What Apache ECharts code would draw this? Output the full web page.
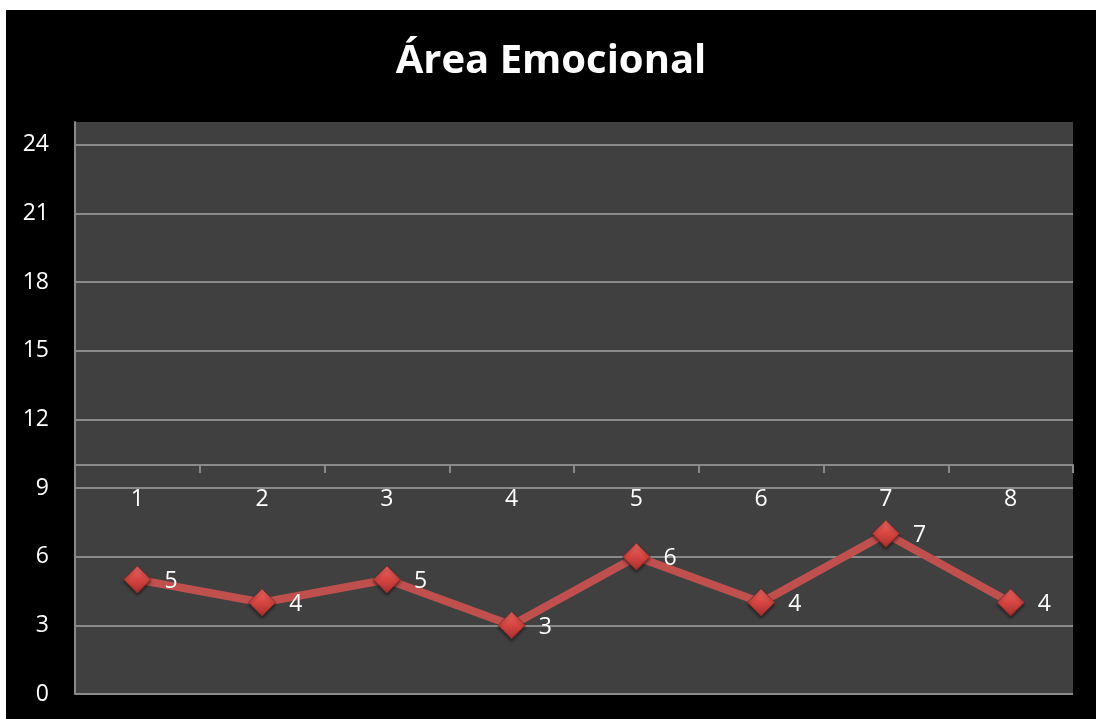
<!DOCTYPE html>
<html>
<head>
<meta charset="utf-8">
<script src="https://cdn.jsdelivr.net/npm/echarts@6/dist/echarts.min.js"></script>
<style>
html,body{margin:0;padding:0;background:#ffffff;width:1096px;height:719px;overflow:hidden;}
#chart{position:absolute;left:6px;top:10px;width:1090px;height:709px;background:#000000;}
</style>
</head>
<body>
<div id="chart"></div>
<script>
const titleText = 'Área Emocional';
const categories = ['1','2','3','4','5','6','7','8'];
const values = [5, 4, 5, 3, 6, 4, 7, 4];
const yMin = 0, yMax = 25, yStep = 3;

const chart = echarts.init(document.getElementById('chart'), null, {renderer:'canvas'});
const font = '"Open Sans", "Liberation Sans", sans-serif';
chart.setOption({
  backgroundColor: '#000000',
  animation: false,
  title: {
    text: titleText,
    left: 'center',
    top: 27,
    textStyle: {color:'#ffffff', fontSize: 40, fontWeight: 'bold', fontFamily: font}
  },
  grid: {left: 69, top: 112, width: 998, height: 572, show: true, backgroundColor: '#404040', borderWidth: 0},
  xAxis: {
    type: 'category',
    data: categories,
    boundaryGap: true,
    position: 'bottom',
    offset: -229,
    axisLine: {show: true, lineStyle: {color: '#8a8a8a', width: 2}},
    axisTick: {show: true, length: 8, inside: false, lineStyle: {color: '#8a8a8a', width: 2}},
    axisLabel: {color: '#ffffff', fontSize: 23, fontFamily: font, margin: 23}
  },
  yAxis: {
    type: 'value',
    min: yMin, max: yMax, interval: yStep,
    axisLine: {show: true, lineStyle: {color: '#8a8a8a', width: 2}},
    axisTick: {show: false},
    splitLine: {show: true, showMaxLine: false, lineStyle: {color: '#8a8a8a', width: 2}},
    axisLabel: {color: '#ffffff', fontSize: 23, fontFamily: font, margin: 26,
      formatter: v => (v % yStep === 0 ? String(v) : '')}
  },
  series: [{
    type: 'line',
    data: values,
    symbol: 'diamond',
    symbolSize: 27,
    lineStyle: {color: '#c0504d', width: 8},
    itemStyle: {
      color: new echarts.graphic.LinearGradient(0,0,0,1,[
        {offset:0, color:'#ec6a66'},
        {offset:0.5, color:'#d64541'},
        {offset:1, color:'#a5302d'}
      ]),
      borderColor: '#8f2b29', borderWidth: 1,
      shadowColor: 'rgba(0,0,0,0.5)', shadowBlur: 3, shadowOffsetY: 2
    },
    label: {show: true, position: 'right', distance: 13, color: '#ffffff', fontSize: 23, fontFamily: font, offset:[0,2]}
  }]
});
</script>
</body>
</html>
